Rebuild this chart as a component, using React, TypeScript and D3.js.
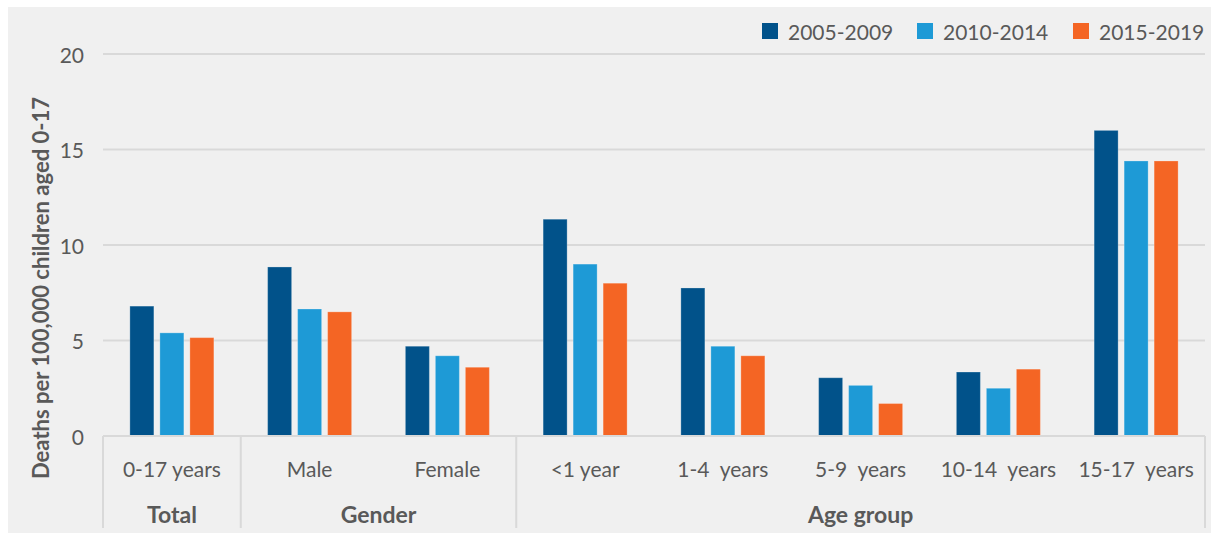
import React from 'react';
import * as d3 from 'd3';

const categories = ['0-17 years', 'Male', 'Female', '<1 year', '1-4  years', '5-9  years', '10-14  years', '15-17  years'];
const groups = [
  { name: 'Total', size: 1 },
  { name: 'Gender', size: 2 },
  { name: 'Age group', size: 5 },
];
const seriesNames = ['2005-2009', '2010-2014', '2015-2019'];
const values2005 = [6.8, 8.85, 4.7, 11.35, 7.75, 3.05, 3.35, 16.0];
const values2010 = [5.4, 6.65, 4.2, 9.0, 4.7, 2.65, 2.5, 14.4];
const values2015 = [5.15, 6.5, 3.6, 8.0, 4.2, 1.7, 3.5, 14.4];
const yTicks = [0, 5, 10, 15, 20];
const colors = ['#01528a', '#1e9ad6', '#f46524'];

const W = 1211;
const H = 534;
const left = 103;
const right = 1205;
const top = 54;
const bottom = 436;
const font = 'Lato, "Open Sans", sans-serif';
const textColor = '#595959';
const gridColor = '#d9d9d9';

const App: React.FC = () => {
  const series = [values2005, values2010, values2015];

  const x0 = d3.scaleBand<string>().domain(categories).range([left, right]).padding(0);
  const x1 = d3.scaleBand<string>().domain(seriesNames).range([0, 84]).paddingInner(0.2).paddingOuter(0);
  const y = d3.scaleLinear().domain([0, 20]).range([bottom, top]);

  // group boundaries along the category axis
  let acc = 0;
  const groupSpans = groups.map((g) => {
    const start = left + acc * x0.step();
    acc += g.size;
    return { ...g, start, end: left + acc * x0.step() };
  });

  const legendX = [762, 917, 1073];

  return (
    <svg
      width={W}
      height={H}
      style={{ position: 'absolute', left: 0, top: 0, fontFamily: font }}
    >
      <rect x={8} y={7} width={W - 8} height={526} fill='#f0f0f0' />

      {/* gridlines */}
      {yTicks.map((t) => (
        <g key={t}>
          <line x1={left} x2={right} y1={y(t)} y2={y(t)} stroke={gridColor} strokeWidth={2} />
          <text
            x={84}
            y={y(t)}
            textAnchor='end'
            dominantBaseline='central'
            fontSize={21}
            fill={textColor}
          >
            {t}
          </text>
        </g>
      ))}

      {/* bars */}
      {categories.map((c, i) => {
        const cx = (x0(c) as number) + x0.bandwidth() / 2 - 42;
        return (
          <g key={c}>
            {seriesNames.map((s, j) => (
              <rect
                key={s}
                x={cx + (x1(s) as number)}
                y={y(series[j][i])}
                width={x1.bandwidth()}
                height={y(0) - y(series[j][i])}
                fill={colors[j]}
                stroke='#ffffff'
                strokeOpacity={0.25}
                strokeWidth={1}
              />
            ))}
            <text
              x={(x0(c) as number) + x0.bandwidth() / 2}
              y={468}
              textAnchor='middle'
              dominantBaseline='central'
              fontSize={21}
              fill={textColor}
              style={{ whiteSpace: 'pre' }}
            >
              {c}
            </text>
          </g>
        );
      })}

      {/* category axis with group separators */}
      <line x1={left} x2={right} y1={bottom} y2={bottom} stroke={gridColor} strokeWidth={2} />
      {[left, ...groupSpans.map((g) => g.end)].map((gx, i) => (
        <line key={i} x1={gx} x2={gx} y1={bottom} y2={528} stroke={gridColor} strokeWidth={2} />
      ))}
      {groupSpans.map((g) => (
        <text
          key={g.name}
          x={(g.start + g.end) / 2}
          y={514}
          textAnchor='middle'
          dominantBaseline='central'
          fontSize={23}
          fontWeight='bold'
          fill={textColor}
        >
          {g.name}
        </text>
      ))}

      {/* y title */}
      <text
        transform={`translate(40, 288) rotate(-90)`}
        textAnchor='middle'
        dominantBaseline='central'
        fontSize={22}
        fontWeight='bold'
        fill={textColor}
      >
        Deaths per 100,000 children aged 0-17
      </text>

      {/* legend */}
      {seriesNames.map((s, j) => (
        <g key={s} transform={`translate(${legendX[j]}, 23)`}>
          <rect width={16} height={16} fill={colors[j]} />
          <text x={26} y={8} dominantBaseline='central' fontSize={21} fill={textColor}>
            {s}
          </text>
        </g>
      ))}
    </svg>
  );
};

export default App;
